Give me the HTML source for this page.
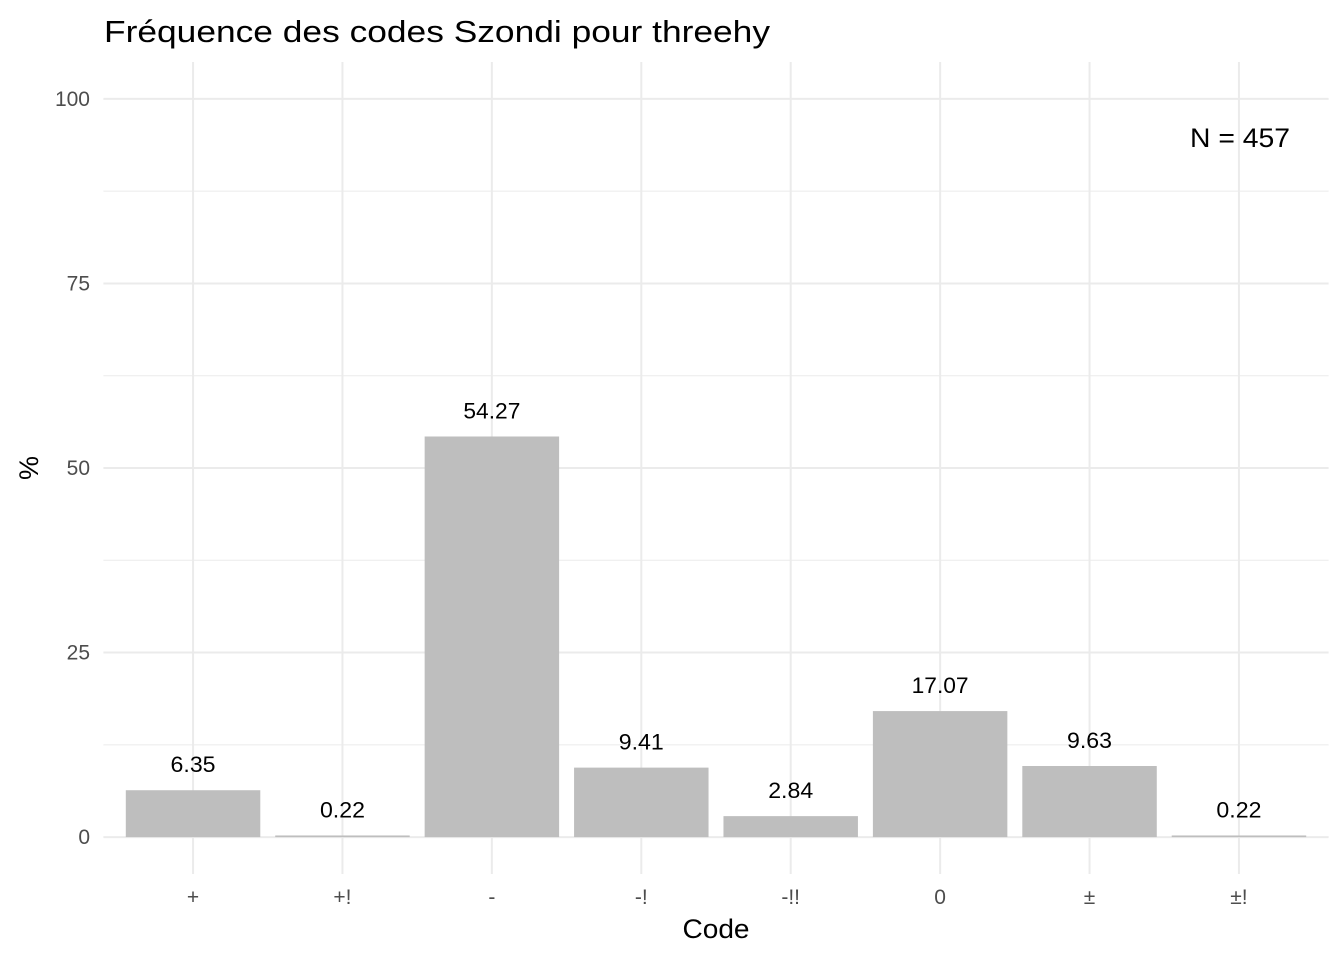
<!DOCTYPE html>
<html><head><meta charset="utf-8"><style>
body{margin:0;background:#fff;font-family:"Liberation Sans",sans-serif}
svg text{font-family:"Liberation Sans",sans-serif}
</style></head><body>
<svg id="chart" width="1344" height="960" xmlns="http://www.w3.org/2000/svg">
<text x="104" y="42" font-size="31" textLength="666" lengthAdjust="spacingAndGlyphs" fill="#000">Fréquence des codes Szondi pour threehy</text>
<g id="grid"></g><g id="bars"></g><g id="labels"></g>
<text x="1240" y="147" font-size="27" text-anchor="middle" textLength="100" lengthAdjust="spacingAndGlyphs" fill="#000">N = 457</text>
<text x="716" y="938" font-size="27" text-anchor="middle" textLength="67" lengthAdjust="spacingAndGlyphs" fill="#000">Code</text>
<text transform="translate(38,468) rotate(-90)" font-size="27" text-anchor="middle" fill="#000">%</text>
</svg>
<script>
const categories=["+","+!","-","-!","-!!","0","±","±!"];
const values=[6.35,0.22,54.27,9.41,2.84,17.07,9.63,0.22];
const yTicks=[0,25,50,75,100];
const yMinor=[12.5,37.5,62.5,87.5];
const NS="http://www.w3.org/2000/svg";
const L=103.4,R=1328.6,T=62,B=874;
const step=(R-L)/(categories.length+0.2);
const x=i=>L+step*(0.6+i);
const y=v=>B-(v+5)/110*(B-T);
const bw=step*0.9;
function mk(tag,attrs,parent){const e=document.createElementNS(NS,tag);for(const k in attrs)e.setAttribute(k,attrs[k]);parent.appendChild(e);return e;}
const grid=document.getElementById('grid'),bars=document.getElementById('bars'),labels=document.getElementById('labels');
yMinor.forEach(v=>{const l=mk('line',{x1:L,x2:R,y1:y(v),y2:y(v),stroke:'#ebebeb','stroke-width':1},grid);

});
yTicks.forEach(v=>{const l=mk('line',{x1:L,x2:R,y1:y(v),y2:y(v),stroke:'#ebebeb','stroke-width':2},grid);


const t=mk('text',{x:90,y:y(v)+7,'font-size':21,fill:'#4d4d4d','text-anchor':'end'},grid);t.textContent=v;

});
categories.forEach((c,i)=>{const l=mk('line',{x1:x(i),x2:x(i),y1:T,y2:B,stroke:'#ebebeb','stroke-width':2},grid);


const t=mk('text',{x:x(i),y:904,'font-size':21,fill:'#4d4d4d','text-anchor':'middle'},grid);t.textContent=c;


const r=mk('rect',{x:x(i)-bw/2,y:y(values[i]),width:bw,height:Math.max(y(0)-y(values[i]),0),fill:'#bebebe'},bars);


const vt=mk('text',{x:x(i),y:y(values[i])-18,'font-size':22,fill:'#000','text-anchor':'middle',textLength:57,lengthAdjust:'spacingAndGlyphs'},labels);vt.textContent=values[i].toFixed(2);
if(values[i]<10){vt.setAttribute('textLength',45);}

});
</script>
</body></html>
